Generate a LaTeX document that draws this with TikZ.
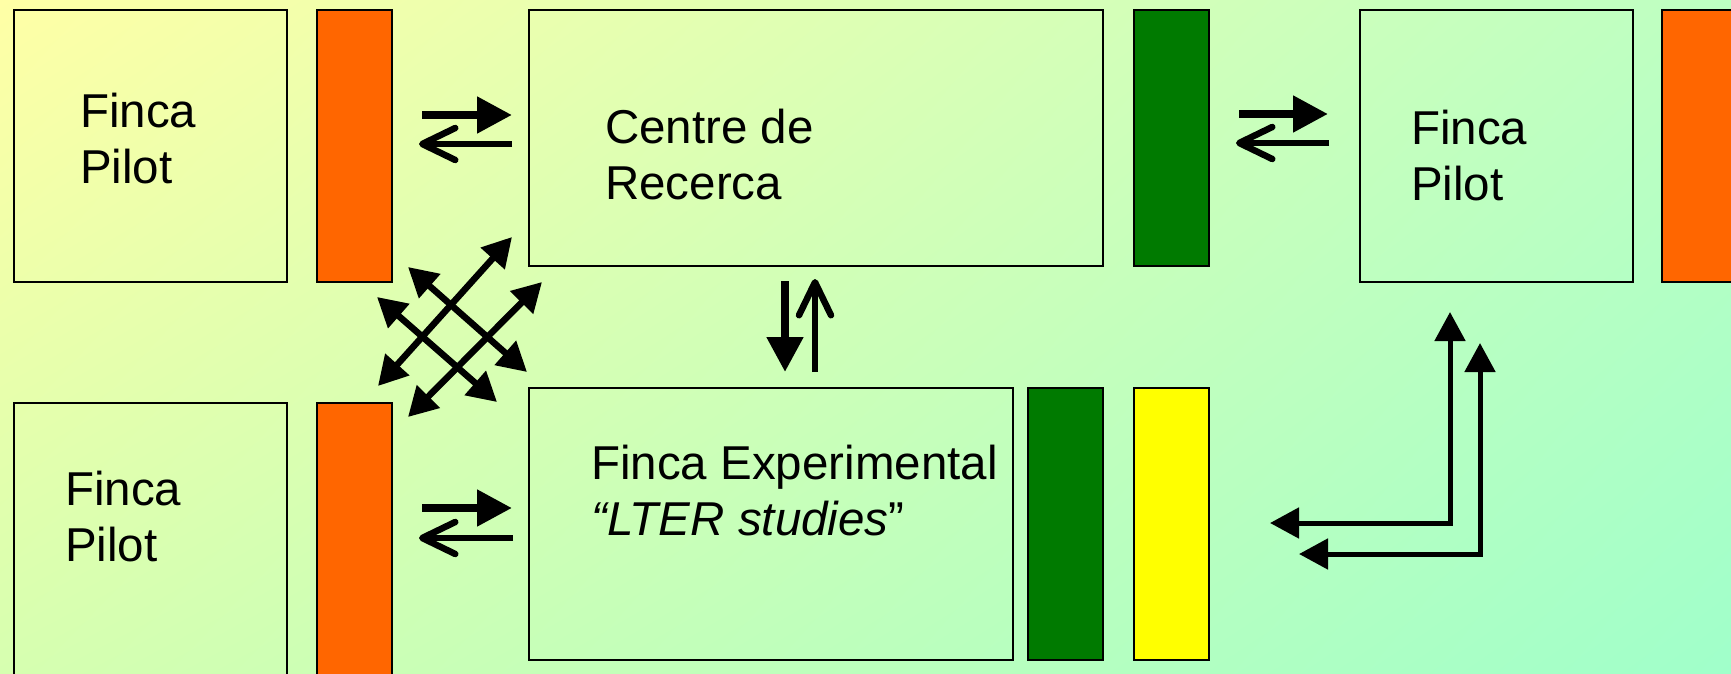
\documentclass[tikz,border=0pt]{standalone}
\usepackage{fontspec}
\setmainfont{Liberation Sans}
\usetikzlibrary{arrows.meta, shadings}
\tikzset{>={Triangle[length=35pt,width=35pt]}}
\definecolor{bgNW}{HTML}{FFFFA6}
\definecolor{bgNE}{HTML}{BDFFC2}
\definecolor{bgSW}{HTML}{D6FFB0}
\definecolor{bgSE}{HTML}{A0FFCA}
\definecolor{orangebar}{HTML}{FF6600}
\definecolor{greenbar}{HTML}{007A00}
\definecolor{yellowbar}{HTML}{FFFF00}
\tikzset{
  field/.style={draw, line width=2pt, minimum width=273pt, minimum height=272pt, anchor=north west, inner sep=0pt},
  band/.style={draw, line width=2pt, minimum width=75pt, anchor=north west, inner sep=0pt},
  txt/.style={anchor=base west, align=left, inner sep=0pt, font=\fontsize{47.5}{56}\selectfont},
  fwd/.style={line width=8pt, ->},
  bck/.style={line width=6.5pt, -{Straight Barb[length=33pt,width=32pt,round]}},
  cross/.style={line width=6.5pt, {Triangle[length=29pt,width=31pt]}-{Triangle[length=29pt,width=31pt]}},
  corner/.style={line width=5pt, {Triangle[length=29pt,width=30pt]}-{Triangle[length=29pt,width=30pt]}}
}

\begin{document}
\begin{tikzpicture}[x=1pt, y=-1pt]
    \shade[upper left=bgNW, upper right=bgNE, lower left=bgSW, lower right=bgSE](0, 0)rectangle(1731, 674);
    \useasboundingbox(0, 0)rectangle(1731, 674);
    \clip(0, 0)rectangle(1731, 674);
    % top row
    \node[field](pilotNW) at(13, 9){};
    \node[band, fill=orangebar, minimum height=272pt](barNW) at(316, 9){};
    \node[field, minimum width=574pt, minimum height=256pt](centre) at(528, 9){};
    \node[band, fill=greenbar, minimum height=256pt](barCentre) at(1133, 9){};
    \node[field](pilotNE) at(1359, 9){};
    \node[band, fill=orangebar, minimum height=272pt](barNE) at(1661, 9){};
    % bottom row
    \node[field, minimum height=284pt](pilotSW) at(13, 402){};
    \node[band, fill=orangebar, minimum height=284pt](barSW) at(316, 402){};
    \node[field, minimum width=484pt](exper) at(528, 387){};
    \node[band, fill=greenbar, minimum height=272pt](barExpG) at(1027, 387){};
    \node[band, fill=yellowbar, minimum height=272pt](barExpY) at(1133, 387){};
    % texts (base = last line)
    \node[txt](tPilotNW) at(80, 183){Finca\\Pilot};
    \node[txt](tCentre) at(605, 199){Centre de\\Recerca};
    \node[txt](tPilotNE) at(1411, 200){Finca\\Pilot};
    \node[txt](tPilotSW) at(65, 561){Finca\\Pilot};
    \node[txt](tExper) at(591, 535){Finca Experimental\\\textit{“LTER studies}”};
    % exchange arrows
    \coordinate(nwA) at(422, 115); \coordinate(nwB) at(512, 115);
    \coordinate(nwC) at(512, 144); \coordinate(nwD) at(419, 144);
    \draw[fwd](nwA)--(nwB);
    \draw[bck](nwC)--(nwD);
    \coordinate(neA) at(1239, 114); \coordinate(neB) at(1328, 114);
    \coordinate(neC) at(1329, 143); \coordinate(neD) at(1236, 143);
    \draw[fwd](neA)--(neB);
    \draw[bck](neC)--(neD);
    \coordinate(swA) at(422, 508); \coordinate(swB) at(512, 508);
    \coordinate(swC) at(513, 538); \coordinate(swD) at(419, 538);
    \draw[fwd](swA)--(swB);
    \draw[bck](swC)--(swD);
    \coordinate(vA) at(785, 281); \coordinate(vB) at(785, 372);
    \coordinate(vC) at(815, 372); \coordinate(vD) at(815, 279);
    \draw[fwd](vA)--(vB);
    \draw[bck](vC)--(vD);
    % crossing arrows
    \coordinate(xA1) at(378, 386); \coordinate(xA2) at(512, 237);
    \coordinate(xB1) at(408, 417); \coordinate(xB2) at(542, 282);
    \coordinate(xC1) at(408, 267); \coordinate(xC2) at(527, 372);
    \coordinate(xD1) at(377, 297); \coordinate(xD2) at(497, 402);
    \draw[cross](xA1)--(xA2);
    \draw[cross](xB1)--(xB2);
    \draw[cross](xC1)--(xC2);
    \draw[cross](xD1)--(xD2);
    % corner arrows
    \coordinate(cA1) at(1270, 523); \coordinate(cA2) at(1450, 312);
    \coordinate(cB1) at(1299, 554); \coordinate(cB2) at(1480, 343);
    \draw[corner](cA1)-|(cA2);
    \draw[corner](cB1)-|(cB2);
\end{tikzpicture}
\end{document}
